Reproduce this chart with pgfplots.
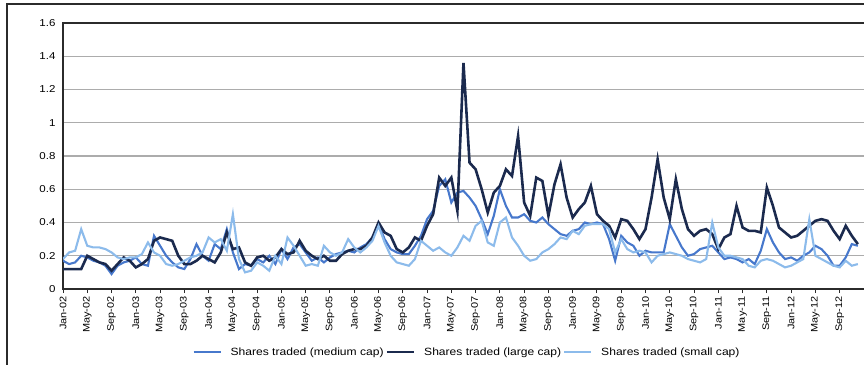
\documentclass[border=0pt]{standalone}
\usepackage{fontspec}
\setmainfont[FakeStretch=1.15]{Liberation Sans}
\usepackage{pgfplots}
\usepackage{pgfplotstable}
\pgfplotsset{compat=1.18}

\definecolor{medcap}{HTML}{4778CC}
\definecolor{largecap}{HTML}{1B2A4E}
\definecolor{smallcap}{HTML}{8CBBEB}
\definecolor{framecol}{HTML}{2B2B2B}

% month index (0 = Jan-02), turnover ratios
\pgfplotstableread{
m medium large small
0 0.17 0.12 0.18
1 0.15 0.12 0.22
2 0.16 0.12 0.23
3 0.20 0.12 0.36
4 0.19 0.20 0.26
5 0.17 0.18 0.25
6 0.16 0.16 0.25
7 0.14 0.15 0.24
8 0.09 0.11 0.22
9 0.14 0.15 0.19
10 0.16 0.19 0.18
11 0.17 0.17 0.19
12 0.19 0.13 0.19
13 0.15 0.15 0.21
14 0.14 0.18 0.28
15 0.32 0.29 0.22
16 0.26 0.31 0.20
17 0.20 0.30 0.15
18 0.16 0.29 0.14
19 0.13 0.20 0.15
20 0.12 0.15 0.17
21 0.18 0.15 0.19
22 0.27 0.17 0.20
23 0.20 0.20 0.22
24 0.17 0.18 0.31
25 0.27 0.16 0.28
26 0.24 0.22 0.30
27 0.36 0.34 0.23
28 0.22 0.24 0.45
29 0.12 0.25 0.18
30 0.15 0.16 0.10
31 0.14 0.14 0.11
32 0.18 0.19 0.16
33 0.16 0.20 0.14
34 0.20 0.17 0.11
35 0.15 0.19 0.20
36 0.24 0.24 0.15
37 0.18 0.21 0.31
38 0.25 0.22 0.26
39 0.27 0.29 0.20
40 0.22 0.23 0.14
41 0.17 0.20 0.15
42 0.19 0.18 0.14
43 0.16 0.20 0.26
44 0.19 0.17 0.22
45 0.21 0.17 0.20
46 0.22 0.21 0.22
47 0.23 0.23 0.30
48 0.22 0.24 0.25
49 0.25 0.24 0.22
50 0.27 0.26 0.25
51 0.31 0.31 0.29
52 0.39 0.40 0.38
53 0.30 0.34 0.28
54 0.24 0.32 0.20
55 0.22 0.24 0.16
56 0.21 0.22 0.15
57 0.21 0.25 0.14
58 0.26 0.31 0.18
59 0.32 0.29 0.29
60 0.42 0.38 0.26
61 0.47 0.45 0.23
62 0.62 0.67 0.25
63 0.66 0.62 0.22
64 0.52 0.67 0.20
65 0.58 0.47 0.25
66 0.59 1.36 0.32
67 0.55 0.76 0.29
68 0.50 0.72 0.38
69 0.42 0.60 0.41
70 0.33 0.46 0.28
71 0.44 0.58 0.26
72 0.60 0.62 0.40
73 0.50 0.72 0.43
74 0.43 0.68 0.31
75 0.43 0.92 0.26
76 0.45 0.52 0.20
77 0.41 0.44 0.17
78 0.40 0.67 0.18
79 0.43 0.65 0.22
80 0.39 0.44 0.24
81 0.36 0.63 0.27
82 0.33 0.75 0.31
83 0.32 0.55 0.30
84 0.35 0.43 0.35
85 0.36 0.48 0.33
86 0.40 0.52 0.38
87 0.39 0.62 0.39
88 0.40 0.45 0.39
89 0.39 0.41 0.39
90 0.30 0.38 0.36
91 0.17 0.31 0.22
92 0.32 0.42 0.30
93 0.28 0.41 0.24
94 0.26 0.36 0.22
95 0.20 0.30 0.23
96 0.23 0.36 0.22
97 0.22 0.55 0.16
98 0.22 0.78 0.20
99 0.22 0.55 0.21
100 0.39 0.42 0.22
101 0.32 0.66 0.21
102 0.25 0.48 0.20
103 0.20 0.36 0.18
104 0.21 0.32 0.17
105 0.24 0.35 0.16
106 0.25 0.36 0.18
107 0.26 0.33 0.40
108 0.22 0.24 0.25
109 0.18 0.31 0.20
110 0.19 0.33 0.20
111 0.18 0.50 0.19
112 0.16 0.37 0.18
113 0.18 0.35 0.14
114 0.15 0.35 0.13
115 0.23 0.34 0.17
116 0.36 0.61 0.18
117 0.28 0.50 0.17
118 0.22 0.37 0.15
119 0.18 0.34 0.13
120 0.19 0.31 0.14
121 0.17 0.32 0.16
122 0.20 0.35 0.18
123 0.22 0.38 0.42
124 0.26 0.41 0.20
125 0.24 0.42 0.18
126 0.20 0.41 0.16
127 0.14 0.35 0.14
128 0.14 0.30 0.13
129 0.19 0.38 0.17
130 0.27 0.32 0.14
131 0.26 0.27 0.15
}\turnover

\begin{document}
\begin{tikzpicture}
\useasboundingbox (0pt,0pt) rectangle (864pt,364pt);
% chart area border
\draw[line width=1.6pt, framecol] (7pt,-20pt) -- (7pt,360pt) -- (900pt,360pt);
\begin{axis}[
  at={(63pt,75pt)}, anchor=south west,
  scale only axis, width=807pt, height=266pt,
  xmin=0, xmax=133, ymin=0, ymax=1.6,
  axis line style={line width=1.6pt, framecol},
  ytick={0,0.2,...,1.6},
  yticklabels={0,0.2,0.4,0.6,0.8,1,1.2,1.4,1.6},
  ytick style={draw=none},
  ymajorgrids,
  grid style={line width=1.3pt, gray!65},
  xtick={0,4,...,128},
  xticklabels={Jan-02,May-02,Sep-02,Jan-03,May-03,Sep-03,Jan-04,May-04,Sep-04,Jan-05,May-05,Sep-05,Jan-06,May-06,Sep-06,Jan-07,May-07,Sep-07,Jan-08,May-08,Sep-08,Jan-09,May-09,Sep-09,Jan-10,May-10,Sep-10,Jan-11,May-11,Sep-11,Jan-12,May-12,Sep-12},
  xticklabel style={rotate=90, anchor=east, font=\fontsize{9.5}{10}\selectfont},
  yticklabel style={font=\fontsize{10}{11}\selectfont},
  tick align=outside, major tick length=4pt,
  xtick style={line width=1pt, framecol},
  xtick pos=bottom,
  legend columns=3,
  legend style={at={(axis description cs:0.5,-0.237)}, anchor=center, draw=none,
    font=\fontsize{10.5}{11}\selectfont, column sep=1pt,
    nodes={inner sep=1pt},
    /tikz/every odd column/.append style={column sep=8pt}},
  legend image code/.code={\draw[#1] (0pt,0pt) -- (27pt,0pt);},
]
\addplot[medcap, line width=2.1pt] table[x=m, y=medium] {\turnover};
\addlegendentry{Shares traded (medium cap)}
\addplot[largecap, line width=2.6pt] table[x=m, y=large] {\turnover};
\addlegendentry{Shares traded (large cap)}
\addplot[smallcap, line width=2.1pt] table[x=m, y=small] {\turnover};
\addlegendentry{Shares traded (small cap)}
\end{axis}
\end{tikzpicture}
\end{document}
